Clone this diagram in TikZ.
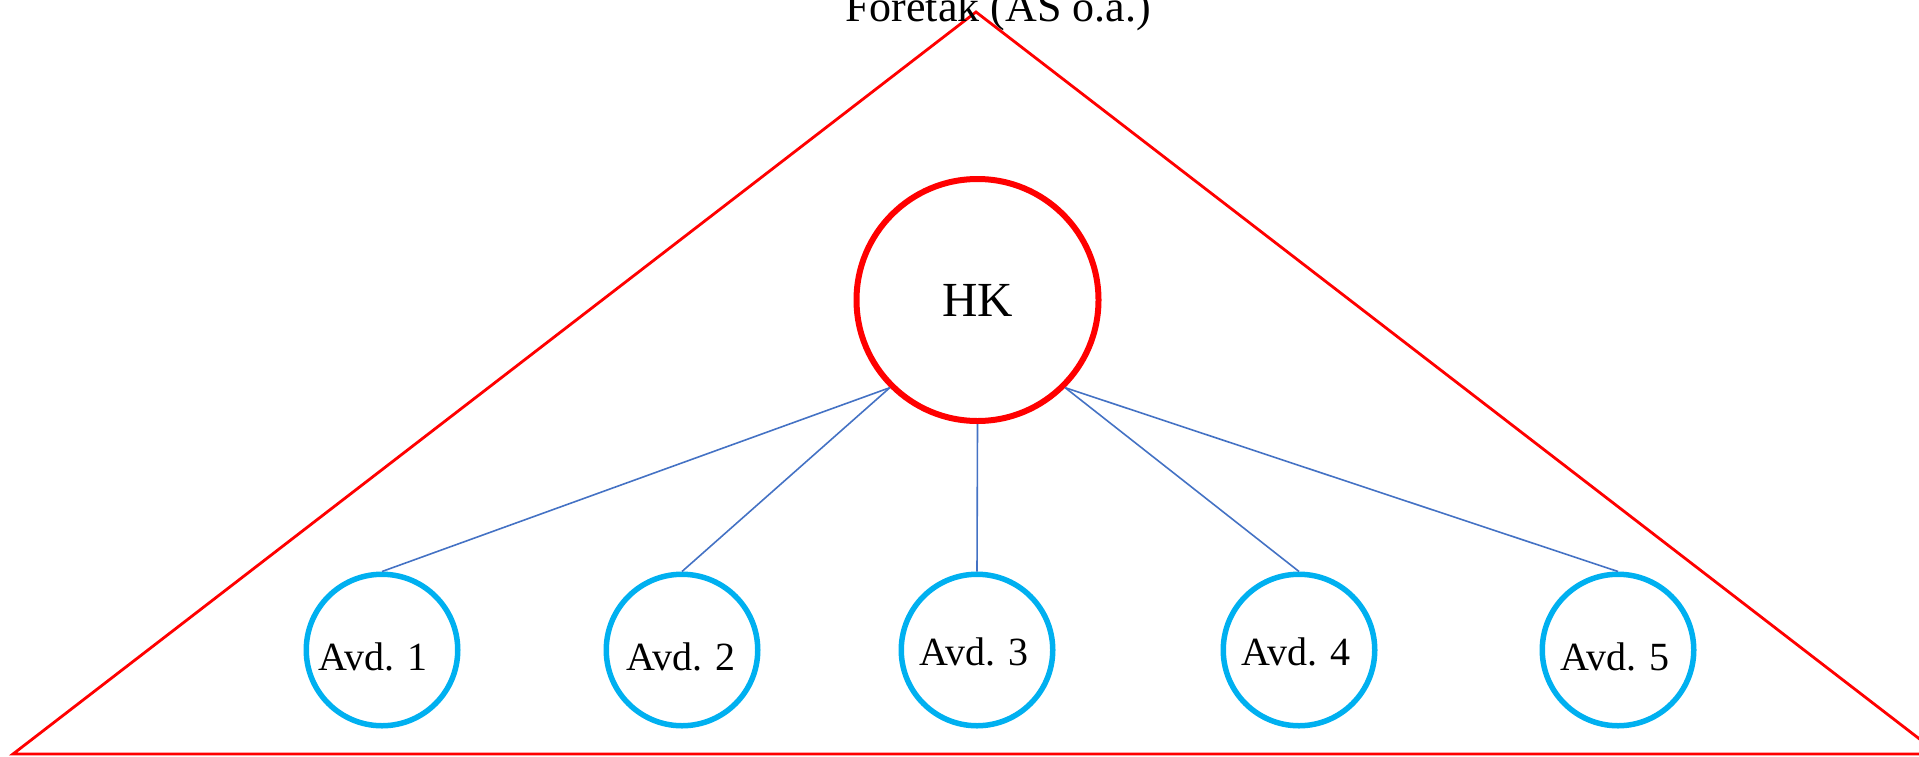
\documentclass[tikz,border=0pt]{standalone}
\usepackage{fontspec}
\setmainfont{Liberation Serif}
\definecolor{hkred}{HTML}{FF0000}
\definecolor{avdblue}{HTML}{00B0F0}
\definecolor{linkblue}{HTML}{4472C4}
\tikzset{
  hkcircle/.style={circle, draw=hkred, line width=6pt, minimum size=242pt, inner sep=0pt,
    font=\fontsize{49}{58}\selectfont},
  avdcircle/.style={circle, draw=avdblue, line width=5.5pt, minimum size=151.5pt, inner sep=0pt},
  avdlabel/.style={font=\fontsize{40}{48}\selectfont, inner sep=0pt},
  link/.style={draw=linkblue, line width=1.6pt},
  outline/.style={draw=hkred, line width=2.8pt, line join=miter}
}
\begin{document}
\begin{tikzpicture}[x=1pt, y=-1pt]
  \useasboundingbox (0,0) rectangle (1919,756);
  % company triangle
  \coordinate (apex) at (976,12);
  \coordinate (bl) at (13,754);
  \coordinate (br) at (1939,754);
  \draw[outline] (apex) -- (bl) -- (br) -- cycle;
  \node[anchor=base, font=\fontsize{44}{52}\selectfont] (foretak) at (998,21) {Foretak (AS o.a.)};
  % head office
  \node[hkcircle] (hk) at (977.5,300) {HK};
  % departments
  \node[avdcircle] (a1) at (382,650) {};
  \node[avdcircle] (a2) at (682,650) {};
  \node[avdcircle] (a3) at (977,650) {};
  \node[avdcircle] (a4) at (1299,650) {};
  \node[avdcircle] (a5) at (1618,650) {};
  \node[avdlabel] (t1) at (373,657) {Avd. 1};
  \node[avdlabel] (t2) at (681,657) {Avd. 2};
  \node[avdlabel] (t3) at (974,652) {Avd. 3};
  \node[avdlabel] (t4) at (1296,652) {Avd. 4};
  \node[avdlabel] (t5) at (1615,657) {Avd. 5};
  % reporting lines
  \draw[link] (hk.south west) -- (a1.north);
  \draw[link] (hk.south west) -- (a2.north);
  \draw[link] (hk.south) -- (a3.north);
  \draw[link] (hk.south east) -- (a4.north);
  \draw[link] (hk.south east) -- (a5.north);
\end{tikzpicture}
\end{document}
